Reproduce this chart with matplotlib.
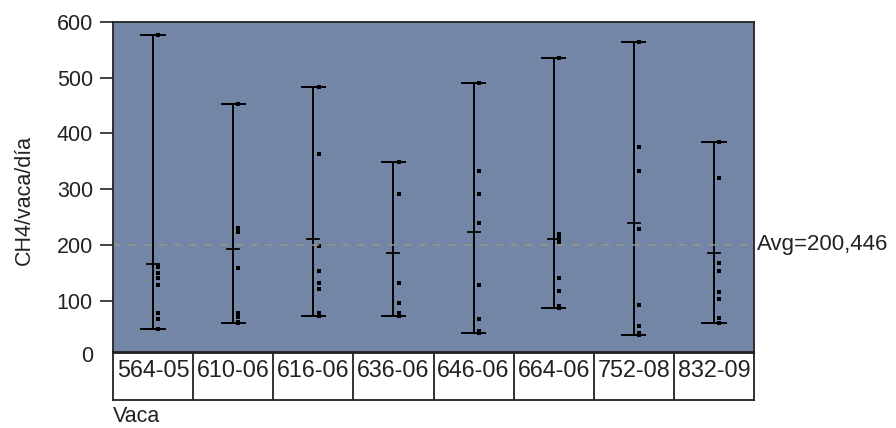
import numpy as np
import matplotlib.pyplot as plt
import matplotlib.transforms as mtransforms

plt.rcParams['font.family'] = ['Liberation Sans', 'DejaVu Sans']

# CH4 per cow, one list of daily readings per animal
vacas = ['564-05', '610-06', '616-06', '636-06', '646-06', '664-06', '752-08', '832-09']
ch4 = [
    [576, 160, 150, 140, 129, 78, 68, 50],
    [453, 231, 224, 159, 78, 70, 62, 60],
    [484, 364, 198, 154, 132, 121, 78, 73],
    [348, 292, 132, 96, 78, 73],
    [491, 333, 292, 240, 129, 68, 46, 42],
    [535, 220, 213, 206, 141, 118, 91, 87],
    [565, 376, 333, 229, 93, 55, 42, 39],
    [385, 321, 168, 154, 116, 103, 69, 60],
]
medias = [165, 193, 211, 186, 224, 211, 240, 186]
avg = 200.446
yticks = [100, 200, 300, 400, 500, 600]

txt = '#222222'
fs = 15.5

fig = plt.figure(figsize=(8.96, 4.28), dpi=100)
ax = fig.add_axes([113/896, 1 - 352/428, 641/896, 330/428])
ax.set_facecolor('#7486a5')

for i, vals in enumerate(ch4):
    xc = i + 0.5
    lo, hi = min(vals), max(vals)
    ax.plot([xc, xc], [lo, hi], color='black', lw=1.4, solid_capstyle='butt')
    ax.plot([xc - 0.145, xc + 0.145], [hi, hi], color='black', lw=1.4)
    ax.plot([xc - 0.145, xc + 0.145], [lo, lo], color='black', lw=1.4)
    ax.plot([xc - 0.075, xc + 0.075], [medias[i], medias[i]], color='black', lw=1.3)
    ax.plot(np.full(len(vals), xc + 0.065), vals, 's', color='black', ms=3, mew=0)

ax.axhline(avg, color='#9a9688', lw=1.1, dashes=(5, 5))
ax.text(1.004, avg, 'Avg=' + f'{avg:.3f}'.replace('.', ','), transform=ax.get_yaxis_transform(),
        ha='left', va='center', fontsize=16, color=txt)

ax.set_xlim(0, len(vacas))
ax.set_ylim(8, 600)
ax.set_xticks([])
ax.set_yticks(yticks)
ax.tick_params(axis='y', length=9.5, width=1.2, pad=5, labelsize=fs, labelcolor=txt, color='#222222')
# zero label sits just under the lower limit
ax.text(-0.0305, 0, '0', transform=mtransforms.blended_transform_factory(ax.transAxes, ax.transData),
        ha='right', va='center', fontsize=fs, color=txt, clip_on=False)
for s in ax.spines.values():
    s.set_color('#222222')
    s.set_linewidth(1.3)

fig.text(24/896, 1 - 200/428, 'CH4/vaca/día', rotation=90, ha='center', va='center',
         fontsize=fs, color=txt)

# category table under the plot
tb = fig.add_axes([113/896, 1 - 400/428, 641/896, 47/428])
tb.set_xlim(0, len(vacas))
tb.set_ylim(0, 1)
tb.set_xticks([])
tb.set_yticks([])
for s in tb.spines.values():
    s.set_color('#222222')
    s.set_linewidth(1.3)
for i, v in enumerate(vacas):
    if i > 0:
        tb.axvline(i, color='#222222', lw=1.3)
    tb.text(i + 0.5, 0.62, v, ha='center', va='center', fontsize=16.8, color=txt)

fig.text(113/896, 1 - 417/428, 'Vaca', ha='left', va='center', fontsize=fs, color=txt)

fig.savefig('out.png', dpi=100)
